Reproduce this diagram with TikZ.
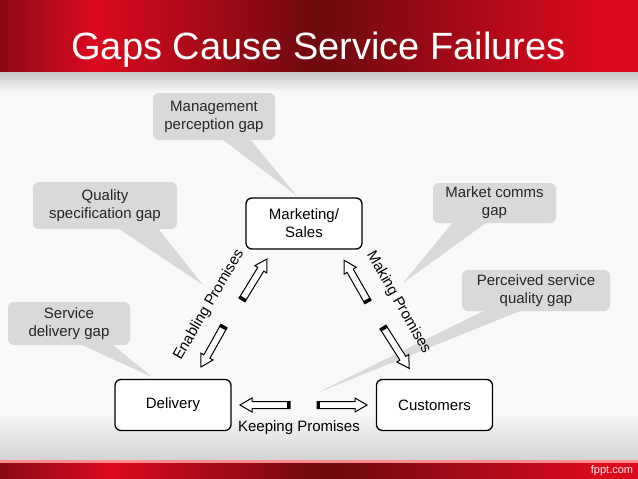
\documentclass[tikz,border=0pt]{standalone}
\usepackage{fontspec}
\setmainfont{Liberation Sans}
\definecolor{bgc}{HTML}{F9F9F9}
\definecolor{redbright}{HTML}{DC0A1E}
\definecolor{reddark}{HTML}{6C0A0E}
\definecolor{redleft}{HTML}{8A0A14}
\definecolor{callgray}{HTML}{D9D9D9}
\definecolor{calltext}{HTML}{262626}
\tikzset{
  mainbox/.style={draw=black, line width=1.3pt, fill=white, rounded corners=6pt,
    minimum width=116pt, minimum height=51pt, align=center, inner sep=2pt,
    font=\fontsize{15}{18}\selectfont},
  callout/.style={fill=callgray, rounded corners=6pt, align=center, inner sep=2pt,
    text=calltext, font=\fontsize{15}{18}\selectfont},
  wedge/.style={fill=callgray},
  lbl/.style={font=\fontsize{15}{18}\selectfont, inner sep=0pt},
  arrowbody/.style={draw=black, fill=white, line width=1pt, line join=miter},
}
\newcommand{\blockarr}[4]{%
  \begin{scope}[shift={(#1,#2)}, rotate=#3]
    \filldraw[arrowbody] (0,-3.5) -- (#4-12,-3.5) -- (#4-12,-7) -- (#4,0) -- (#4-12,7) -- (#4-12,3.5) -- (0,3.5) -- cycle;
    \fill[black] (0,-4) rectangle (3,4);
  \end{scope}}
\begin{document}
\begin{tikzpicture}[x=1pt, y=-1pt]
\useasboundingbox (0,0) rectangle (638,479);
% background
\fill[bgc] (0,0) rectangle (638,479);
% top band
\shade[left color=redleft, right color=redbright] (0,0) rectangle (95,72);
\shade[left color=redbright, right color=reddark] (94.5,0) rectangle (320,72);
\shade[left color=reddark, right color=redbright] (319.5,0) rectangle (600,72);
\fill[redbright] (599.5,0) rectangle (638,72);
\shade[top color=black!22, bottom color=bgc] (0,72) rectangle (638,92);
% bottom band
\shade[top color=bgc, bottom color=black!17] (0,412) rectangle (638,460);
\fill[red!45] (0,460) rectangle (638,463);
\shade[left color=redleft, right color=redbright] (0,463) rectangle (110,479);
\shade[left color=redbright, right color=reddark] (109.5,463) rectangle (330,479);
\shade[left color=reddark, right color=redbright] (329.5,463) rectangle (600,479);
\fill[redbright] (599.5,463) rectangle (638,479);
% title
\node[anchor=base, text=white, font=\fontsize{38}{40}\selectfont, inner sep=0pt] (title) at (318.5,59) {Gaps Cause Service Failures};
\node[text=white!92!red, font=\fontsize{11}{12}\selectfont, inner sep=0pt] (fppt) at (612,471) {fppt.com};
% callout tips
\coordinate (tipmg) at (297,196);
\coordinate (tipqs) at (203,285);
\coordinate (tipsd) at (152,377);
\coordinate (tipmc) at (403,283);
\coordinate (tipps) at (317,393);
% callouts
\node[callout, minimum width=122pt, minimum height=47pt] (mg) at (214,116.5) {Management\\perception gap};
\node[callout, minimum width=144pt, minimum height=47pt] (qs) at (105,205.5) {Quality\\specification gap};
\node[callout, minimum width=122pt, minimum height=43pt] (sd) at (69,323.5) {Service\\delivery gap};
\node[callout, minimum width=123pt, minimum height=40pt] (mc) at (494.5,203) {Market comms\\gap};
\node[callout, minimum width=148pt, minimum height=41pt] (ps) at (536,290.5) {Perceived service\\quality gap};
\fill[wedge] ([xshift=8pt, yshift=1pt]mg.south) -- (tipmg) -- ([xshift=36pt, yshift=1pt]mg.south) -- cycle;
\fill[wedge] ([xshift=13pt, yshift=1pt]qs.south) -- (tipqs) -- ([xshift=53pt, yshift=1pt]qs.south) -- cycle;
\fill[wedge] ([xshift=11pt, yshift=1pt]sd.south) -- (tipsd) -- ([xshift=43pt, yshift=1pt]sd.south) -- cycle;
\fill[wedge] ([xshift=-41.5pt, yshift=1pt]mc.south) -- (tipmc) -- ([xshift=-7.5pt, yshift=1pt]mc.south) -- cycle;
\fill[wedge] ([xshift=-51pt, yshift=1pt]ps.south) -- (tipps) -- ([xshift=-14pt, yshift=1pt]ps.south) -- cycle;
% main boxes
\node[mainbox] (mkt) at (304,223.5) {Marketing/\\Sales};
\node[mainbox] (del) at (173,405) {Delivery};
\node[mainbox] (cus) at (434.5,405) {Customers};
% block arrows
\blockarr{242}{300}{58.6}{48}
\blockarr{224}{326}{240.7}{47}
\blockarr{368}{302}{119.7}{48}
\blockarr{383}{327}{-57.6}{49}
\blockarr{290}{405}{180}{50}
\blockarr{317}{405}{0}{50}
% labels
\node[lbl, rotate=59.7] (enab) at (209,305) {Enabling Promises};
\node[lbl, rotate=-60.3] (mak) at (398.5,302.5) {Making Promises};
\node[lbl] (keep) at (299,428) {Keeping Promises};
\end{tikzpicture}
\end{document}
